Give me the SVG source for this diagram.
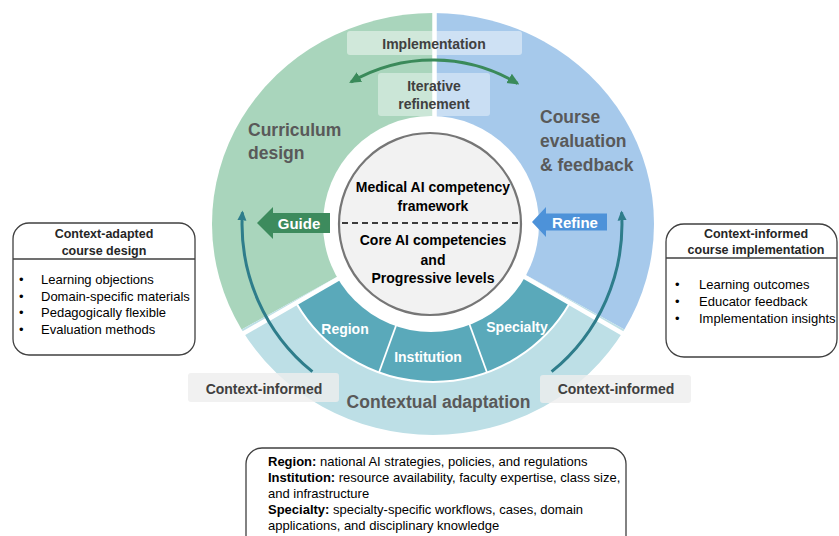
<svg xmlns="http://www.w3.org/2000/svg" width="839" height="536" viewBox="0 0 839 536">
<defs>
<style>
text{font-family:"Liberation Sans",Arial,sans-serif;}
.b{font-weight:bold;}
.hd{font-size:17.5px;font-weight:bold;fill:#595959;}
.lbl{font-size:14px;font-weight:bold;fill:#404040;text-anchor:middle;}
.ctr{font-size:14px;font-weight:bold;fill:#000;text-anchor:middle;}
.seg{font-size:14px;font-weight:bold;fill:#fff;text-anchor:middle;}
.box{fill:#fff;stroke:#404040;stroke-width:1.3;}
.div{stroke:#404040;stroke-width:1.3;}
.bt{font-size:12.5px;font-weight:bold;fill:#262626;text-anchor:middle;}
.li{font-size:13px;fill:#000;}
.gap{stroke:#fff;stroke-width:4.5;}
</style>
<marker id="ahG" markerUnits="userSpaceOnUse" markerWidth="12" markerHeight="12" refX="9" refY="5" orient="auto-start-reverse" viewBox="0 0 11 10">
<path d="M0,0 L11,5 L0,10 z" fill="#3a8a5a"/>
</marker>
<marker id="ahT" markerUnits="userSpaceOnUse" markerWidth="10" markerHeight="10" refX="8" refY="4.5" orient="auto" viewBox="0 0 10 9">
<path d="M0,0 L10,4.5 L0,9 z" fill="#2e7d8b"/>
</marker>
</defs>
<rect width="839" height="536" fill="#fff"/>

<g id="ring">
<path id="curriculum-sector" d="M433 224 L433 13 A221 211 0 0 0 241.6 329.5 Z" fill="#a9d5bc"/>
<path id="evaluation-sector" d="M433 224 L433 13 A221 211 0 0 1 624.4 329.5 Z" fill="#a6c9eb"/>
<path id="adaptation-sector" d="M433 224 L624.4 329.5 A221 211 0 0 1 241.6 329.5 Z" fill="#bddfe6"/>
<path id="teal-band" d="M433 224 L569.8 303 A158 158 0 0 1 296.2 303 Z" fill="#5aa9ba" stroke="#fff" stroke-width="2"/>
<line x1="467.2" y1="318" x2="487" y2="372.5" stroke="#fff" stroke-width="1.8"/>
<line x1="398.8" y1="318" x2="379" y2="372.5" stroke="#fff" stroke-width="1.8"/>
<line class="gap" x1="434.5" y1="5" x2="434.5" y2="224"/>
<line class="gap" x1="433" y1="224" x2="225.2" y2="344"/>
<line class="gap" x1="433" y1="224" x2="640.8" y2="344"/>
<circle cx="431" cy="224" r="108" fill="#fff"/>
</g>

<g id="framework">
<circle cx="430" cy="224" r="91" fill="#f2f2f2" stroke="#767676" stroke-width="2.2"/>
<line x1="342" y1="223" x2="522" y2="223" stroke="#000" stroke-width="1.5" stroke-dasharray="6 4"/>
<text class="ctr" x="433" y="192">Medical AI competency</text>
<text class="ctr" x="433" y="211">framework</text>
<text class="ctr" x="433" y="245">Core AI competencies</text>
<text class="ctr" x="433" y="265">and</text>
<text class="ctr" x="433" y="283">Progressive levels</text>
</g>

<g id="curriculum-design">
<text class="hd" x="248" y="136">Curriculum</text>
<text class="hd" x="248" y="159">design</text>
</g>

<g id="course-evaluation">
<text class="hd" x="540" y="123">Course</text>
<text class="hd" x="540" y="147">evaluation</text>
<text class="hd" x="540" y="171">&amp; feedback</text>
</g>

<g id="contextual-adaptation">
<text class="hd" x="438.5" y="408" text-anchor="middle">Contextual adaptation</text>
</g>

<g id="segment-region"><text class="seg" x="345" y="334">Region</text></g>
<g id="segment-institution"><text class="seg" x="428" y="362">Institution</text></g>
<g id="segment-specialty"><text class="seg" x="517" y="332">Specialty</text></g>

<g id="connectors">
<path d="M351 82 A164 164 0 0 1 517.5 83.4" fill="none" stroke="#3a8a5a" stroke-width="3" marker-start="url(#ahG)" marker-end="url(#ahG)"/>
<path d="M312.4 371.7 A190 190 0 0 1 242.4 212.4" fill="none" stroke="#2e7d8b" stroke-width="3" marker-end="url(#ahT)"/>
<path d="M551.6 371.7 A190 190 0 0 0 621.6 212.4" fill="none" stroke="#2e7d8b" stroke-width="3" marker-end="url(#ahT)"/>
</g>

<g id="implementation-label">
<rect x="347" y="31" width="175" height="24" rx="3" fill="#fff" fill-opacity="0.45"/>
<text class="lbl" x="434" y="49">Implementation</text>
</g>

<g id="iterative-label">
<rect x="378" y="73" width="112" height="43" rx="3" fill="#fff" fill-opacity="0.4"/>
<text class="lbl" x="434" y="91">Iterative</text>
<text class="lbl" x="434" y="109">refinement</text>
</g>

<g id="guide-arrow">
<polygon points="257,223 273,207 273,213 330,213 330,233 273,233 273,239" fill="#3d8b5d"/>
<text x="299" y="228.5" font-size="15" font-weight="bold" fill="#fff" text-anchor="middle">Guide</text>
</g>

<g id="refine-arrow">
<polygon points="532,222 546,207 546,213.5 607,213.5 607,230.5 546,230.5 546,237" fill="#4d92d9"/>
<text x="575" y="227.5" font-size="15" font-weight="bold" fill="#fff" text-anchor="middle">Refine</text>
</g>

<g id="context-informed-left">
<rect x="188" y="373" width="151" height="29" rx="3" fill="#eeeeee" fill-opacity="0.8"/>
<text class="lbl" x="264" y="394" fill="#333">Context-informed</text>
</g>

<g id="context-informed-right">
<rect x="540" y="375" width="151" height="28" rx="3" fill="#eeeeee" fill-opacity="0.8"/>
<text class="lbl" x="616" y="394" fill="#333">Context-informed</text>
</g>

<g id="course-design-box">
<rect class="box" x="13" y="223" width="182" height="132" rx="16"/>
<line class="div" x1="13" y1="259" x2="195" y2="259"/>
<text class="bt" x="104" y="238">Context-adapted</text>
<text class="bt" x="104" y="255">course design</text>
<text class="li" x="19" y="284">•</text><text class="li" x="41" y="284">Learning objections</text>
<text class="li" x="19" y="300.5">•</text><text class="li" x="41" y="300.5">Domain-specific materials</text>
<text class="li" x="19" y="317">•</text><text class="li" x="41" y="317">Pedagogically flexible</text>
<text class="li" x="19" y="333.5">•</text><text class="li" x="41" y="333.5">Evaluation methods</text>
</g>

<g id="course-implementation-box">
<rect class="box" x="666" y="224" width="171" height="133" rx="18"/>
<line class="div" x1="666" y1="258" x2="837" y2="258"/>
<text class="bt" x="756" y="238">Context-informed</text>
<text class="bt" x="756" y="254">course implementation</text>
<text class="li" x="675" y="289">•</text><text class="li" x="699" y="289">Learning outcomes</text>
<text class="li" x="675" y="306">•</text><text class="li" x="699" y="306">Educator feedback</text>
<text class="li" x="675" y="323">•</text><text class="li" x="699" y="323">Implementation insights</text>
</g>

<g id="context-factors-box">
<rect class="box" x="246" y="448" width="380" height="110" rx="16"/>
<text class="li" x="268" y="466"><tspan class="b">Region:</tspan> national AI strategies, policies, and regulations</text>
<text class="li" x="268" y="482"><tspan class="b">Institution:</tspan> resource availability, faculty expertise, class size,</text>
<text class="li" x="268" y="498">and infrastructure</text>
<text class="li" x="268" y="514"><tspan class="b">Specialty:</tspan> specialty-specific workflows, cases, domain</text>
<text class="li" x="268" y="530">applications, and disciplinary knowledge</text>
</g>
</svg>
